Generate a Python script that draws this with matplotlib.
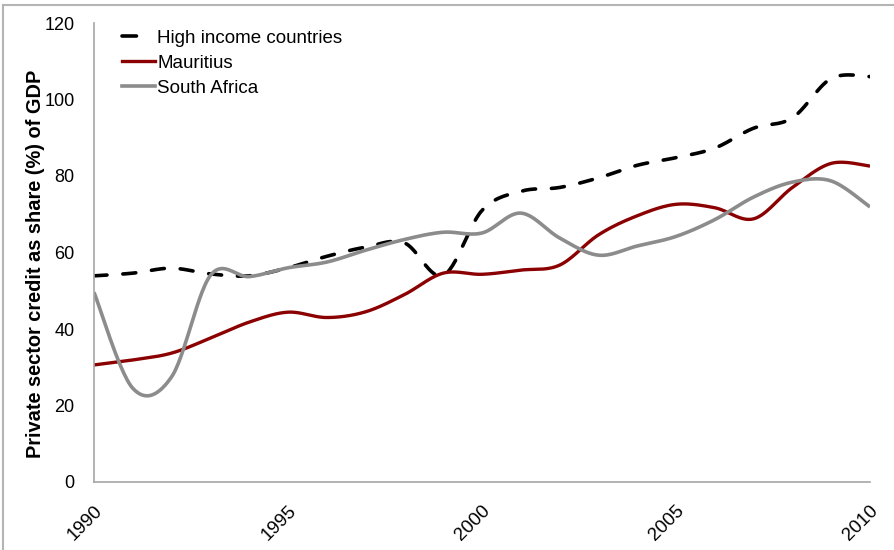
import numpy as np
import matplotlib
matplotlib.use("Agg")
import matplotlib.pyplot as plt
from matplotlib.transforms import ScaledTranslation
from matplotlib.lines import Line2D

years = list(range(1990, 2011))
high_income = [53.9, 54.6, 55.9, 54.4, 53.9, 56.0, 59.0, 61.4, 62.5, 54.0, 71.0,
               76.0, 77.0, 79.5, 82.8, 84.8, 87.3, 92.5, 95.2, 105.5, 106.0]
mauritius = [30.6, 31.9, 33.7, 37.6, 41.8, 44.4, 43.0, 44.5, 49.0, 54.6, 54.3,
             55.4, 56.7, 64.6, 69.6, 72.6, 71.7, 68.8, 77.0, 83.3, 82.6]
south_africa = [49.6, 24.5, 27.5, 54.0, 53.7, 56.0, 57.5, 60.6, 63.4, 65.3, 65.1,
                70.3, 63.8, 59.3, 61.7, 64.2, 68.6, 74.5, 78.4, 78.7, 71.9]

xticks = [1990, 1995, 2000, 2005, 2010]
yticks = [0, 20, 40, 60, 80, 100, 120]


def smooth(x, y, n=30):
    """Piecewise cubic Bezier through every point (spreadsheet-style smoothed line)."""
    x = np.asarray(x, float)
    y = np.asarray(y, float)
    px = np.concatenate([[x[0]], x, [x[-1]]])
    py = np.concatenate([[y[0]], y, [y[-1]]])
    t = np.linspace(0, 1, n)
    xs, ys = [], []
    for i in range(1, len(px) - 2):
        p0 = np.array([px[i - 1], py[i - 1]])
        p1 = np.array([px[i], py[i]])
        p2 = np.array([px[i + 1], py[i + 1]])
        p3 = np.array([px[i + 2], py[i + 2]])
        c1 = p1 + (p2 - p0) / 6.0
        c2 = p2 - (p3 - p1) / 6.0
        b = (((1 - t) ** 3)[:, None] * p1 + (3 * (1 - t) ** 2 * t)[:, None] * c1
             + (3 * (1 - t) * t ** 2)[:, None] * c2 + (t ** 3)[:, None] * p2)
        if i > 1:
            b = b[1:]
        xs.append(b[:, 0])
        ys.append(b[:, 1])
    return np.concatenate(xs), np.concatenate(ys)


plt.rcParams['font.family'] = ['Liberation Sans', 'DejaVu Sans']

fig = plt.figure(figsize=(8.95, 5.5), dpi=100)
ax = fig.add_axes([94 / 895, 1 - 482 / 550, (870 - 94) / 895, (482 - 23) / 550])

red = '#8b0000'
grey = '#8c8c8c'
dash = (0, (3.6, 4.4))

sx, sy = smooth(years, high_income)
ax.plot(sx, sy, color='black', lw=2.6, linestyle=dash,
        dash_capstyle='round', label='High income countries')
sx, sy = smooth(years, mauritius)
ax.plot(sx, sy, color=red, lw=2.4, label='Mauritius', solid_capstyle='butt')
sx, sy = smooth(years, south_africa)
ax.plot(sx, sy, color=grey, lw=2.6, label='South Africa', solid_capstyle='butt')

ax.set_xlim(1990, 2010)
ax.set_ylim(0, 120)
ax.set_xticks(xticks)
ax.set_xticklabels([str(v) for v in xticks])
ax.set_yticks(yticks)

for side in ('top', 'right'):
    ax.spines[side].set_visible(False)
for side in ('left', 'bottom'):
    ax.spines[side].set_color('#a6a6a6')
    ax.spines[side].set_linewidth(1.2)

ax.tick_params(axis='y', length=0, pad=14, labelsize=13)
ax.tick_params(axis='x', length=0, pad=19, labelsize=13.5)
for lbl in ax.get_xticklabels():
    lbl.set_rotation(45)
    lbl.set_rotation_mode('anchor')
    lbl.set_ha('right')
    lbl.set_va('center')
    lbl.set_transform(lbl.get_transform() + ScaledTranslation(4 / 72, 0, fig.dpi_scale_trans))

ax.set_ylabel('Private sector credit as share (%) of GDP', fontsize=14.4,
              fontweight='bold')
ax.yaxis.set_label_coords(-(94 - 45) / 776, (482 - 264) / 459)

handles = [
    Line2D([], [], color='black', lw=2.6, linestyle=(0, (4, 7)), dash_capstyle='round'),
    Line2D([], [], color=red, lw=2.4),
    Line2D([], [], color=grey, lw=2.6),
]
ax.legend(handles, ['High income countries', 'Mauritius', 'South Africa'],
          loc='upper left', bbox_to_anchor=(122 / 895, 1 - 29.5 / 550),
          bbox_transform=fig.transFigure, frameon=False, fontsize=13.5,
          handlelength=1.75, handletextpad=0.12, labelspacing=0.43,
          borderpad=0, borderaxespad=0)

# thin frame along the top and left edges of the figure
fig.add_artist(Line2D([3 / 895, 894 / 895], [1 - 5 / 550, 1 - 5 / 550],
                      transform=fig.transFigure, color='#b4b4b4', lw=1.5))
fig.add_artist(Line2D([3 / 895, 3 / 895], [0, 1 - 5 / 550],
                      transform=fig.transFigure, color='#b4b4b4', lw=1.5))

fig.savefig('out.png', dpi=100)
